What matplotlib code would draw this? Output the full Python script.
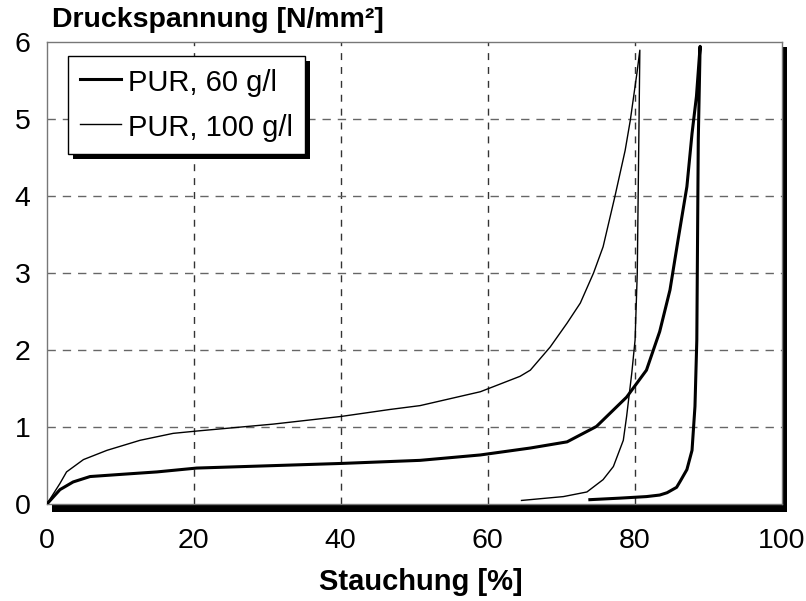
import matplotlib.pyplot as plt
from matplotlib.patches import Rectangle

plt.rcParams['font.family'] = ['Liberation Sans', 'DejaVu Sans']

x_60 = [0, 1.8, 3.6, 5.9, 10.4, 15.0, 20.4, 40.1, 50.8, 59.0, 65.8, 70.8,
        74.8, 78.9, 81.6, 83.4, 84.8, 85.9, 87.1, 87.8, 88.4, 88.9,
        88.65, 88.45, 88.2, 87.8, 87.1, 86.2, 85.7, 84.4, 83.4, 81.6, 78.0, 73.9]
y_60 = [0, 0.19, 0.29, 0.36, 0.39, 0.42, 0.47, 0.53, 0.57, 0.64, 0.73, 0.81,
        1.01, 1.39, 1.74, 2.24, 2.78, 3.43, 4.12, 4.81, 5.29, 5.94,
        4.73, 2.13, 1.27, 0.70, 0.45, 0.30, 0.22, 0.15, 0.12, 0.10, 0.08, 0.06]

x_100 = [0, 1.8, 2.7, 5.0, 8.2, 12.7, 17.2, 20.4, 30.8, 40.1, 46.7, 50.8,
         59.0, 64.4, 65.8, 68.5, 70.8, 72.6, 74.4, 75.7, 77.3, 78.7, 79.4,
         80.3, 80.7,
         80.35, 80.05, 79.6, 78.9, 78.45, 77.1, 75.7, 73.5, 70.3, 64.6]
y_100 = [0, 0.27, 0.42, 0.58, 0.70, 0.83, 0.92, 0.95, 1.04, 1.14, 1.23, 1.28,
         1.46, 1.66, 1.74, 2.04, 2.35, 2.61, 3.0, 3.34, 3.99, 4.59, 4.98,
         5.59, 5.89,
         3.0, 2.13, 1.70, 1.14, 0.83, 0.49, 0.32, 0.16, 0.10, 0.05]

labels = ['PUR, 60 g/l', 'PUR, 100 g/l']
x_ticks = [0, 20, 40, 60, 80, 100]
y_ticks = [0, 1, 2, 3, 4, 5, 6]

W, H = 806, 601
fig = plt.figure(figsize=(W / 100, H / 100), dpi=100)

# Schatten hinter dem Diagramm
fig.patches.append(Rectangle((52 / W, 1 - 512 / H), 735 / W, 465 / H,
                             transform=fig.transFigure, facecolor='black',
                             edgecolor='none', zorder=0))

ax = fig.add_axes([46.7 / W, 1 - 504.3 / H, 735 / W, 462.6 / H])
ax.set_zorder(1)
ax.set_facecolor('white')

ax.plot(x_60, y_60, color='black', lw=2.2, label=labels[0], zorder=3)
ax.plot(x_100, y_100, color='black', lw=1.0, label=labels[1], zorder=3)

ax.set_xlim(0, 100)
ax.set_ylim(0, 6)
ax.set_xticks(x_ticks)
ax.set_yticks(y_ticks)
ax.tick_params(length=0, labelsize=20.5)
ax.tick_params(axis='x', pad=17)
ax.tick_params(axis='y', pad=11.5)

for v in x_ticks[1:-1]:
    ax.axvline(v, color='#333333', lw=1, ls=(0, (5, 5)), zorder=1)
for v in y_ticks[1:-1]:
    ax.axhline(v, color='#666666', lw=1, ls=(0, (6, 5)), zorder=1)

for s in ax.spines.values():
    s.set_color('#777777')
    s.set_linewidth(1)

fig.text(52 / W, 1 - 20 / H, 'Druckspannung [N/mm²]', fontsize=20.5,
         fontweight='bold', ha='left', va='center')
fig.text(421 / W, 1 - 582 / H, 'Stauchung [%]', fontsize=21,
         fontweight='bold', ha='center', va='center')

leg = ax.legend(loc='upper left', bbox_to_anchor=(68.3 / W, 1 - 56 / H),
                bbox_transform=fig.transFigure, borderaxespad=0,
                fancybox=False, edgecolor='black', framealpha=1,
                fontsize=21, handlelength=1.4, handletextpad=0.25,
                handleheight=1.05, borderpad=0.4, labelspacing=0.53)
leg.get_frame().set_linewidth(1)
leg.set_zorder(5)

fig.canvas.draw()
bb = leg.get_window_extent()
ax.add_artist(Rectangle((bb.x0 + 5, bb.y0 - 5), bb.width, bb.height,
                        transform=None, facecolor='black', edgecolor='none',
                        zorder=4))

fig.savefig('out.png', dpi=100)
